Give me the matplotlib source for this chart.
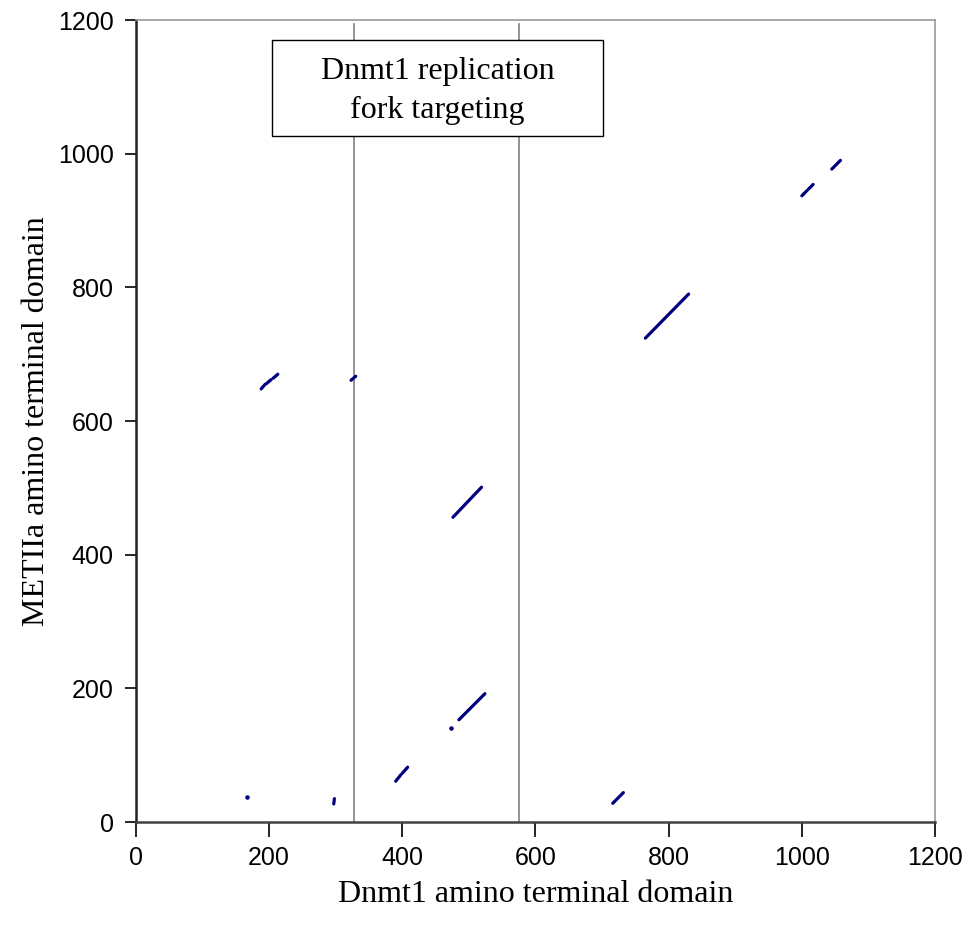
import matplotlib.pyplot as plt
from matplotlib.patches import Rectangle

# similarity segments (Dnmt1 x, METIIa y)
seg_x0 = [297, 188, 196, 206, 323, 390, 400, 485, 476, 716, 765, 1000, 1010, 1045]
seg_y0 = [27, 648, 656, 664, 661, 61, 73, 153, 456, 28, 724, 937, 947, 977]
seg_x1 = [298, 194, 203, 213, 330, 398, 408, 524, 519, 732, 830, 1008, 1017, 1058]
seg_y1 = [35, 655, 662, 670, 667, 71, 82, 192, 501, 44, 790, 945, 954, 990]

# single dots
dot_x = [167, 473]
dot_y = [38, 141]

# replication fork targeting region borders
region_lo = 327
region_hi = 575

ticks = [0, 200, 400, 600, 800, 1000, 1200]

fig = plt.figure(figsize=(9.7, 9.32), dpi=100)
ax = fig.add_axes([0.1402, 0.118, 0.8237, 0.8605])

navy = '#00007f'
for x0, y0, x1, y1 in zip(seg_x0, seg_y0, seg_x1, seg_y1):
    ax.plot([x0, x1], [y0, y1], color=navy, lw=2.3, solid_capstyle='round', zorder=3)
ax.scatter(dot_x, dot_y, s=5, color=navy, zorder=3)

ax.axvline(region_lo, ymax=0.995, color='#808080', lw=1.2, zorder=1)
ax.axvline(region_hi, ymax=0.995, color='#808080', lw=1.2, zorder=1)

ax.add_patch(Rectangle((204, 1026), 498, 144, facecolor='white', edgecolor='black',
                       lw=1.0, zorder=4))
ax.text(453, 1094, 'Dnmt1 replication\nfork targeting', ha='center', va='center',
        fontsize=23, family='Liberation Serif', linespacing=1.42, zorder=5)

ax.set_xlim(0, 1200)
ax.set_ylim(0, 1200)
ax.set_xticks(ticks)
ax.set_yticks(ticks)
ax.tick_params(direction='out', width=1.2, labelsize=18)
ax.tick_params(axis='x', length=11, pad=6)
ax.tick_params(axis='y', length=8, pad=8)
for lab in ax.get_xticklabels() + ax.get_yticklabels():
    lab.set_family('Liberation Sans')

ax.spines['left'].set_linewidth(1.8)
ax.spines['left'].set_color('#202020')
ax.spines['bottom'].set_linewidth(1.8)
ax.spines['bottom'].set_color('#404040')
ax.spines['top'].set_color('#999999')
ax.spines['right'].set_color('#999999')
ax.spines['top'].set_linewidth(1.2)
ax.spines['right'].set_linewidth(1.2)

ax.set_xlabel('Dnmt1 amino terminal domain', fontsize=23, family='Liberation Serif')
ax.set_ylabel('METIIa amino terminal domain', fontsize=23, family='Liberation Serif')
ax.xaxis.set_label_coords(0.5, -0.09)
ax.xaxis.label.set_va('center')
ax.yaxis.set_label_coords(-0.124, 0.5)
ax.yaxis.label.set_va('center')
ax.yaxis.label.set_ha('center')

fig.savefig('out.png', dpi=100)
